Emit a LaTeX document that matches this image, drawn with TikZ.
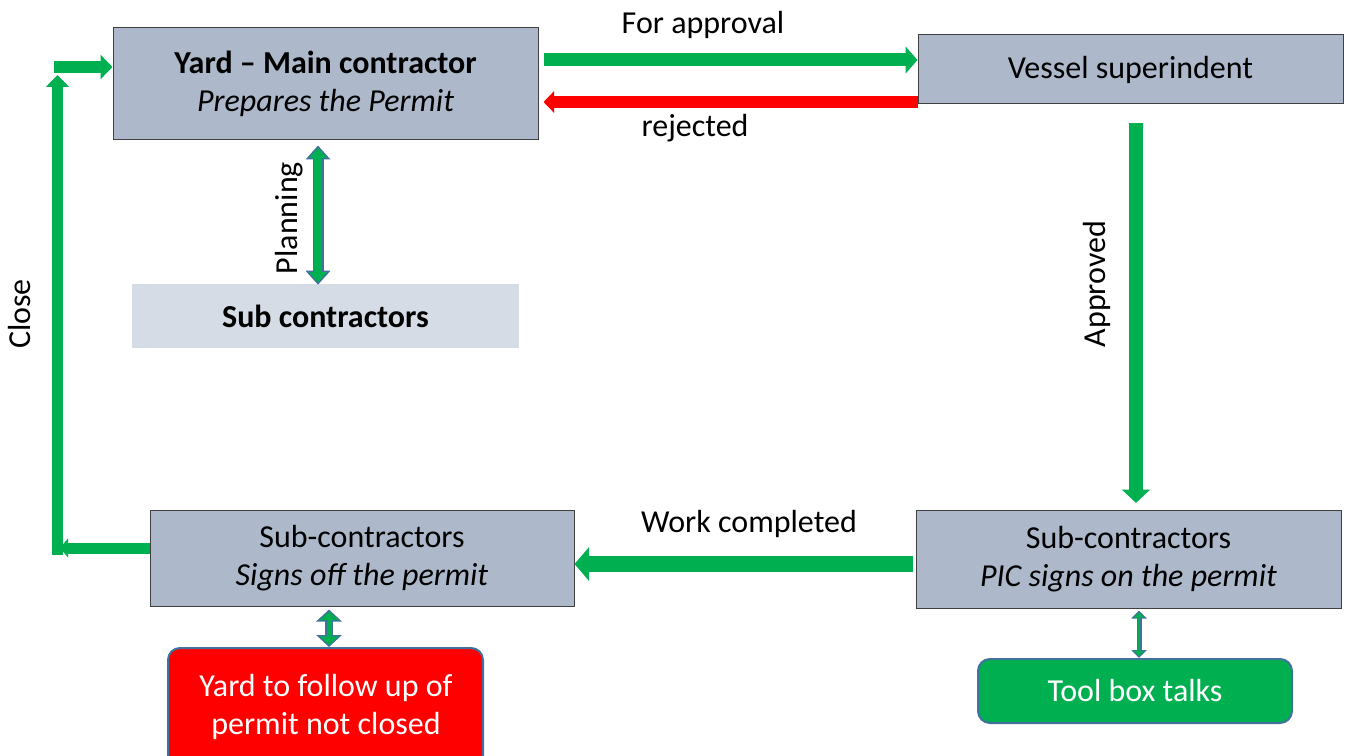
\documentclass[tikz,border=0pt]{standalone}
\usepackage{fontspec}
\setmainfont{Carlito}
\usepackage{xcolor}
\usepackage{tikz}
\usetikzlibrary{arrows.meta,calc}

\definecolor{boxfill}{HTML}{ADB9CA}
\definecolor{lightfill}{HTML}{D6DCE5}
\definecolor{boxline}{HTML}{404040}
\definecolor{arrgreen}{HTML}{00B050}
\definecolor{arrred}{HTML}{FF0000}
\definecolor{outl}{HTML}{41719C}

\tikzset{
  box/.style={draw=boxline, fill=boxfill, line width=0.75pt, inner sep=0pt, align=center},
  softbox/.style={fill=lightfill, inner sep=0pt, align=center},
  roundbox/.style={draw=outl, line width=1.5pt, rounded corners=9pt, inner sep=0pt, align=center, text=white},
  lbl/.style={inner sep=0pt},
  block/.style n args={3}{line width=#1, -{Triangle[width=#2,length=#3]}},
  twoway/.style n args={3}{line width=#1, {Triangle[width=#2,length=#3]}-{Triangle[width=#2,length=#3]}}
}

\begin{document}
\begin{tikzpicture}[x=0.75pt, y=-0.75pt, font=\fontsize{24}{29}\selectfont]

\useasboundingbox (0,0) rectangle (1350,756);
\clip (0,0) rectangle (1350,756);

% boxes
\node[box, minimum width=318.75pt, minimum height=84pt] (yard) at (325.5,84) {\textbf{Yard -- Main contractor}\\\textit{Prepares the Permit}};
\node[box, minimum width=318.75pt, minimum height=51.75pt] (vessel) at (1130.5,69.5) {Vessel superindent};
\node[softbox, minimum width=290.25pt, minimum height=48pt] (subc) at (325.5,316) {\textbf{Sub contractors}};
\node[box, minimum width=318pt, minimum height=72pt] (signoff) at (362,558) {Sub-contractors\\\textit{Signs off the permit}};
\node[box, minimum width=318.75pt, minimum height=73.5pt] (pic) at (1128.5,559) {Sub-contractors\\\textit{PIC signs on the permit}};
\node[roundbox, fill=arrred, minimum width=236.25pt, minimum height=93pt] (follow) at (325.5,710) {};
\node[text=white, align=center, inner sep=0pt] (followtxt) at (326,707) {Yard to follow up of\\permit not closed};
\node[roundbox, fill=arrgreen, minimum width=235.5pt, minimum height=48pt] (tool) at (1135,691) {Tool box talks};

% helper points for the close loop
\coordinate (closeA) at (60,548);
\coordinate (closeB) at (57.5,555);
\coordinate (closeC) at (57.5,75);
\coordinate (closeD) at (54,67);

% approval loop
\draw[arrgreen, block={9.75pt}{20pt}{9pt}, shorten <=3.75pt] (yard.east |- 0,60) -- (vessel.west |- 0,60);
\draw[arrred, block={9pt}{16pt}{8pt}, shorten >=3.75pt] (vessel.west |- 0,102) -- (yard.east |- 0,102);
\draw[arrgreen, block={10.5pt}{21pt}{10pt}, shorten <=14pt, shorten >=5pt] (vessel.south -| 1136,0) -- (pic.north -| 1136,0);
\draw[arrgreen, block={12pt}{25pt}{11pt}, shorten <=2.25pt] (pic.west |- 0,564) -- (signoff.east |- 0,564);

% close
\draw[arrgreen, block={8.25pt}{14pt}{6pt}] (signoff.west |- closeA) -- (closeA);
\draw[arrgreen, block={8.25pt}{17pt}{9pt}] (closeB) -- (closeC);
\draw[arrgreen, block={9pt}{18pt}{9pt}] (closeD) -- (yard.west |- closeD);

% two way links
\draw[outl, twoway={8.25pt}{18pt}{10.5pt}, shorten <=3.75pt, shorten >=-0.75pt] (yard.south -| 318,0) -- (subc.north -| 318,0);
\draw[arrgreen, twoway={6pt}{13.2pt}{7.7pt}, shorten <=5.5pt, shorten >=1pt] (yard.south -| 318,0) -- (subc.north -| 318,0);

\draw[outl, twoway={6pt}{18.75pt}{9pt}, shorten <=2.25pt] (signoff.south -| 329,0) -- (follow.north -| 329,0);
\draw[arrgreen, twoway={3.75pt}{14pt}{6.5pt}, shorten <=3.75pt, shorten >=1.5pt] (signoff.south -| 329,0) -- (follow.north -| 329,0);

\draw[outl, twoway={3.75pt}{11.25pt}{6pt}, shorten <=1.5pt] (pic.south -| 1139,0) -- (tool.north -| 1139,0);
\draw[arrgreen, twoway={1.8pt}{7.5pt}{4pt}, shorten <=2.8pt, shorten >=1.3pt] (pic.south -| 1139,0) -- (tool.north -| 1139,0);

% labels
\node[lbl] (lapp) at (703,25) {For approval};
\node[lbl] (lrej) at (695,128) {rejected};
\node[lbl] (lwork) at (749,524) {Work completed};
\node[lbl, rotate=90] (lok) at (1097,284) {Approved};
\node[lbl, rotate=90] (lplan) at (289,218) {Planning};
\node[lbl, rotate=90] (lclose) at (20,314) {Close};

\end{tikzpicture}
\end{document}
